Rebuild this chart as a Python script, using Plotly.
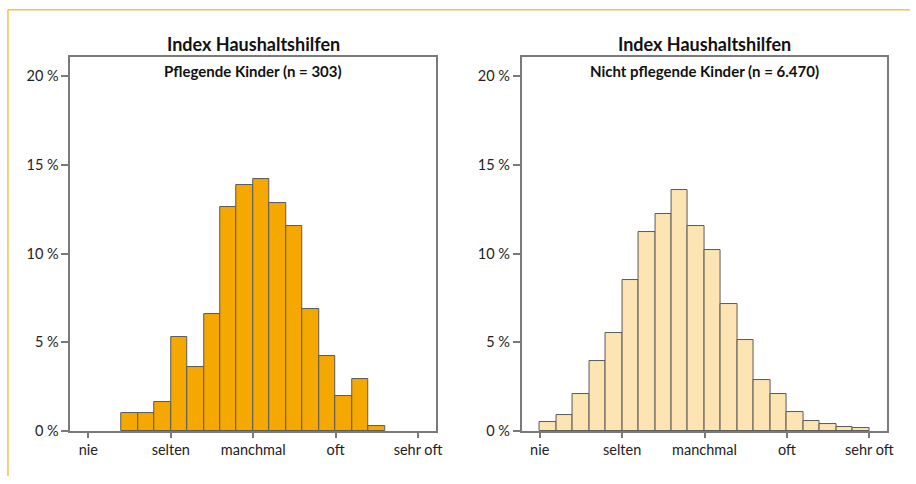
import plotly.graph_objects as go
from plotly.subplots import make_subplots

# Achse: 0 = nie, 1 = selten, 2 = manchmal, 3 = oft, 4 = sehr oft
kategorien = ["nie", "selten", "manchmal", "oft", "sehr oft"]
kat_pos = [0, 1, 2, 3, 4]
bin_breite = 0.2

# Pflegende Kinder (n = 303)
pflegend_start = [0.4, 0.6, 0.8, 1.0, 1.2, 1.4, 1.6, 1.8, 2.0, 2.2, 2.4, 2.6, 2.8, 3.0, 3.2, 3.4]
pflegend_anteil = [1.0, 1.0, 1.65, 5.3, 3.6, 6.6, 12.6, 13.85, 14.2, 12.85, 11.55, 6.9, 4.25, 2.0, 2.95, 0.27]

# Nicht pflegende Kinder (n = 6.470)
nicht_start = [0.0, 0.2, 0.4, 0.6, 0.8, 1.0, 1.2, 1.4, 1.6, 1.8,
               2.0, 2.2, 2.4, 2.6, 2.8, 3.0, 3.2, 3.4, 3.6, 3.8]
nicht_anteil = [0.5, 0.9, 2.07, 3.92, 5.55, 8.48, 11.22, 12.2, 13.55, 11.57,
                10.2, 7.17, 5.14, 2.9, 2.07, 1.05, 0.59, 0.37, 0.22, 0.17]

y_ticks = [0, 5, 10, 15, 20]
y_ticktext = [f"{v}\u202f%" for v in y_ticks]

titel = "Index Haushaltshilfen"
untertitel = ["Pflegende Kinder (n = 303)", "Nicht pflegende Kinder (n = 6.470)"]

FONT = "Lato"
RAHMEN = "#7a7a7a"
W, H = 916, 484  # Bezugsgröße für die Positionen

fig = make_subplots(rows=1, cols=2)

fig.add_trace(go.Bar(
    x=[s + bin_breite / 2 for s in pflegend_start], y=pflegend_anteil, width=bin_breite,
    marker=dict(color="#f5a800", line=dict(color="#5a5a5a", width=1)),
    showlegend=False, hoverinfo="skip"), row=1, col=1)

fig.add_trace(go.Bar(
    x=[s + bin_breite / 2 for s in nicht_start], y=nicht_anteil, width=bin_breite,
    marker=dict(color="#fce4b3", line=dict(color="#5a5a5a", width=1)),
    showlegend=False, hoverinfo="skip"), row=1, col=2)

achse_x = dict(range=[-0.22, 4.22], tickvals=kat_pos, ticktext=kategorien,
               ticks="outside", ticklen=5, tickcolor=RAHMEN, tickwidth=1.5,
               showline=True, linecolor=RAHMEN, linewidth=1.5, mirror=True,
               showgrid=False, zeroline=False,
               tickfont=dict(family=FONT, size=14.5, color="#222"))
achse_y = dict(range=[0, 21.07], tickvals=y_ticks, ticktext=y_ticktext,
               ticks="outside", ticklen=7, tickcolor=RAHMEN, tickwidth=1.5,
               showline=True, linecolor=RAHMEN, linewidth=1.5, mirror=True,
               showgrid=False, zeroline=False,
               tickfont=dict(family=FONT, size=14.5, color="#222"))

y_dom = [1 - 438.3 / H, 1 - 58 / H]

fig.update_layout(
    autosize=True,
    margin=dict(l=0, r=0, t=0, b=0),
    paper_bgcolor="white", plot_bgcolor="white",
    bargap=0,
    xaxis=dict(achse_x, domain=[70.7 / W, 439 / W]),
    xaxis2=dict(achse_x, domain=[525 / W, 893.3 / W]),
    yaxis=dict(achse_y, domain=y_dom),
    yaxis2=dict(achse_y, domain=y_dom),
)

for i, (xr, yr) in enumerate([("x", "y"), ("x2", "y2")]):
    fig.add_annotation(text="<b>" + titel + "</b>", xref=xr + " domain", yref="paper",
                       x=0.5, y=1 - 45 / H, yanchor="middle", showarrow=False,
                       font=dict(family=FONT, size=18, color="#111"))
    fig.add_annotation(text="<b>" + untertitel[i] + "</b>", xref=xr + " domain", yref=yr + " domain",
                       x=0.5, y=0.962, yanchor="middle", showarrow=False,
                       font=dict(family=FONT, size=15, color="#111"))

# orangefarbener Rahmen (oben und links)
fig.add_shape(type="line", xref="paper", yref="paper", x0=8 / W, x1=1, y0=1 - 10 / H, y1=1 - 10 / H,
              line=dict(color="#f8c04a", width=1.5))
fig.add_shape(type="line", xref="paper", yref="paper", x0=8 / W, x1=8 / W, y0=0, y1=1 - 10 / H,
              line=dict(color="#f8c04a", width=1.5))

fig.write_html(
    "out.html",
    config={"displayModeBar": False},
    default_width="100vw", default_height="100vh",
    post_script="document.body.style.margin='0';"
                "document.body.style.overflow='hidden';"
                "document.documentElement.style.overflow='hidden';",
)
